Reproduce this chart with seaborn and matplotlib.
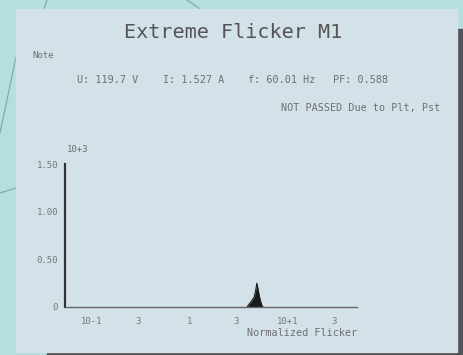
import matplotlib
matplotlib.use("Agg")
import matplotlib.pyplot as plt
from matplotlib.patches import Rectangle
from matplotlib.lines import Line2D
from matplotlib.ticker import FixedLocator, NullFormatter
import seaborn as sns
import pandas as pd

# ---- data ----
flicker = [3.9, 4.0, 4.2, 4.4, 4.6, 4.75, 4.9, 5.05, 5.2, 5.35, 5.5, 5.65]
counts = [0, 20, 45, 75, 105, 170, 250, 180, 110, 60, 20, 0]
x_ticks = [0.1, 0.3, 1, 3, 10, 30]
x_tick_labels = ["10-1", "3", "1", "3", "10+1", "3"]
x_minor = [0.2, 0.5, 2, 5, 20]
y_ticks = [0, 500, 1000, 1500]
y_tick_labels = ["0", "0.50", "1.00", "1.50"]
y_minor = [100, 200, 300, 400, 600, 700, 800, 900, 1100, 1200, 1300, 1400]
title = "Extreme Flicker M1"
note = "Note"
info_items = ["U: 119.7 V", "I: 1.527 A", "f: 60.01 Hz", "PF: 0.588"]
status = "NOT PASSED Due to Plt, Pst"
x_label = "Normalized Flicker"
y_mult = "10+3"

df = pd.DataFrame({"flicker": flicker, "count": counts})

sns.set_style("white")
plt.rcParams["font.family"] = ["DejaVu Sans Mono", "DejaVu Sans"]

W, H = 464, 355
fig = plt.figure(figsize=(W / 100, H / 100), dpi=100)
fig.patch.set_facecolor("#b3dfe0")

def px(x, y):
    return x / W, 1 - y / H

# decorative background lines (only the parts outside the panel)
for (x0, y0, x1, y1) in [(47, 0, 44, 9), (16, 57, 0, 133), (0, 193, 16, 188),
                         (187, 0, 200, 9)]:
    a, b = px(x0, y0); c, d = px(x1, y1)
    fig.add_artist(Line2D([a, c], [b, d], transform=fig.transFigure,
                          color="#8fa6a6", lw=0.9, zorder=0))

# shadow and panel
fig.add_artist(Rectangle((47 / W, 0), (W - 47) / W, (H - 29) / H,
                         transform=fig.transFigure, color="#505358", zorder=0.5))
fig.add_artist(Rectangle((16 / W, 1 - 352 / H), 441 / W, 343 / H,
                         transform=fig.transFigure, color="#d3e2e9", zorder=0.6))

ax = fig.add_axes([65 / W, 1 - 307 / H, (357 - 65) / W, (307 - 164) / H])
ax.set_facecolor("none")
ax.set_zorder(2)

sns.lineplot(data=df, x="flicker", y="count", ax=ax, color="#1a1a1a", lw=0.8)
ax.fill_between(df["flicker"], df["count"], color="#1a1a1a", lw=0)

ax.set_xscale("log")
ax.set_xlim(0.053, 52)
ax.set_ylim(0, 1500)

ax.xaxis.set_major_locator(FixedLocator(x_ticks))
ax.set_xticklabels(x_tick_labels)
ax.xaxis.set_minor_locator(FixedLocator(x_minor))
ax.xaxis.set_minor_formatter(NullFormatter())
ax.yaxis.set_major_locator(FixedLocator(y_ticks))
ax.set_yticklabels(y_tick_labels)
ax.yaxis.set_minor_locator(FixedLocator(y_minor))

ax.set_xlabel("")
ax.set_ylabel("")
for s in ["top", "right"]:
    ax.spines[s].set_visible(False)
ax.spines["left"].set_color("#333333")
ax.spines["left"].set_linewidth(1.6)
ax.spines["bottom"].set_color("#666666")
ax.spines["bottom"].set_linewidth(1.0)

ax.tick_params(axis="x", which="major", direction="inout", length=6, width=1.2,
               color="#555555", labelsize=6.5, labelcolor="#777777", pad=4)
ax.tick_params(axis="x", which="minor", direction="inout", length=3, width=0.8,
               color="#777777")
ax.tick_params(axis="y", which="major", direction="out", length=3, width=1.0,
               color="#555555", labelsize=6.5, labelcolor="#777777", pad=2)
ax.tick_params(axis="y", which="minor", direction="out", length=1.5, width=0.8,
               color="#555555")

# texts
tc = "#555555"
sc = "#6f6f6f"
fig.text(*px(233, 32), title, ha="center", va="center", fontsize=14.5, color=tc)
fig.text(*px(32, 55), note, ha="left", va="center", fontsize=6.5, color=sc)
for xpos, item in zip([77, 163, 248, 333], info_items):
    fig.text(*px(xpos, 80), item, ha="left", va="center", fontsize=7.3, color=sc)
fig.text(*px(440, 108), status, ha="right", va="center", fontsize=7.3, color=sc)
fig.text(*px(357, 333), x_label, ha="right", va="center", fontsize=7.3, color=sc)
fig.text(*px(67, 149), y_mult, ha="left", va="center", fontsize=6.5, color=sc)

fig.savefig("out.png", dpi=100, facecolor=fig.get_facecolor())
